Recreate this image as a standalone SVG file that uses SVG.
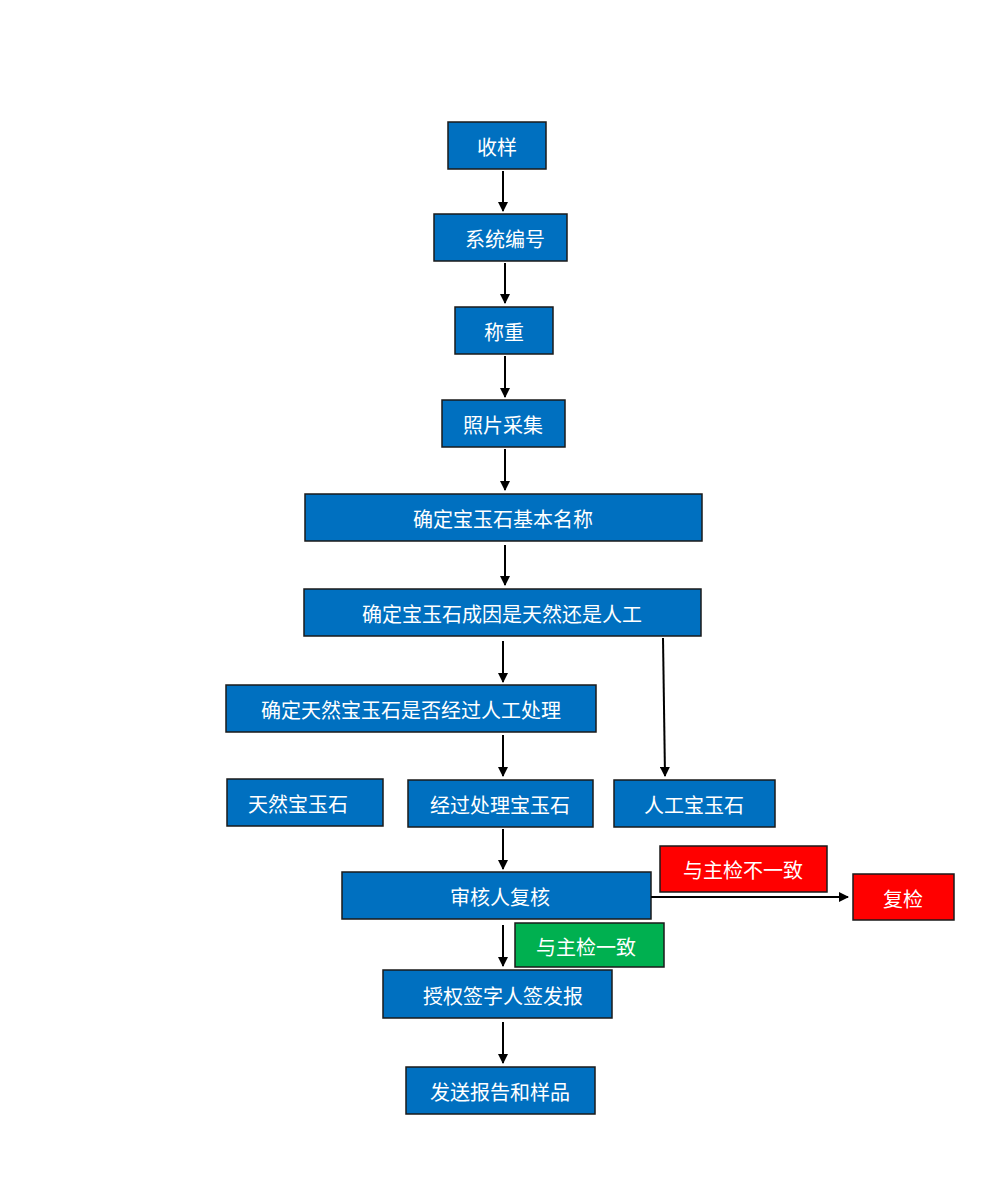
<svg xmlns="http://www.w3.org/2000/svg" width="1000" height="1192" viewBox="0 0 1000 1192">
<defs>
<style>
rect{stroke:#1a1a1a;stroke-width:1.5}
.b{fill:#0070C0}.r{fill:#FF0000}.g{fill:#00B050}
text{fill:#fff;font-family:"Noto Sans CJK SC","Liberation Sans",sans-serif;font-size:20px;text-anchor:middle;dominant-baseline:central}
line{stroke:#000;stroke-width:2;marker-end:url(#a)}
</style>
<marker id="a" markerWidth="10" markerHeight="10" refX="9" refY="5" orient="auto" markerUnits="userSpaceOnUse"><path d="M0,0L10,5L0,10z" fill="#000"/></marker>
</defs>
<rect width="1000" height="1192" fill="#fff" style="stroke:none"/>
<g id="n1"><rect class="b" x="448" y="122" width="98" height="47"/><text x="497" y="146">收样</text></g>
<g id="n2"><rect class="b" x="434" y="214" width="133" height="47"/><text x="505" y="238">系统编号</text></g>
<g id="n3"><rect class="b" x="455" y="307" width="98" height="47"/><text x="504" y="331">称重</text></g>
<g id="n4"><rect class="b" x="442" y="400" width="123" height="47"/><text x="503" y="424">照片采集</text></g>
<g id="n5"><rect class="b" x="305" y="494" width="397" height="47"/><text x="503" y="518">确定宝玉石基本名称</text></g>
<g id="n6"><rect class="b" x="304" y="589" width="397" height="47"/><text x="502" y="613">确定宝玉石成因是天然还是人工</text></g>
<g id="n7"><rect class="b" x="226" y="685" width="370" height="47"/><text x="411" y="709">确定天然宝玉石是否经过人工处理</text></g>
<g id="n8"><rect class="b" x="227" y="779" width="156" height="47"/><text x="298" y="803">天然宝玉石</text></g>
<g id="n9"><rect class="b" x="408" y="780" width="185" height="47"/><text x="500" y="804">经过处理宝玉石</text></g>
<g id="n10"><rect class="b" x="614" y="780" width="161" height="47"/><text x="694" y="804">人工宝玉石</text></g>
<g id="n11"><rect class="r" x="660" y="846" width="167" height="46"/><text x="743" y="869">与主检不一致</text></g>
<g id="n12"><rect class="b" x="342" y="872" width="309" height="47"/><text x="500" y="896">审核人复核</text></g>
<g id="n13"><rect class="r" x="853" y="874" width="101" height="46"/><text x="903" y="898">复检</text></g>
<g id="n14"><rect class="g" x="515" y="923" width="149" height="44"/><text x="586" y="946">与主检一致</text></g>
<g id="n15"><rect class="b" x="383" y="970" width="229" height="48"/><text x="503" y="995">授权签字人签发报</text></g>
<g id="n16"><rect class="b" x="406" y="1067" width="189" height="47"/><text x="500" y="1091">发送报告和样品</text></g>
<g id="connectors">
<line x1="503" y1="171" x2="503" y2="211"/>
<line x1="505" y1="263" x2="505" y2="303"/>
<line x1="505" y1="356" x2="505" y2="397"/>
<line x1="505" y1="449" x2="505" y2="490"/>
<line x1="505" y1="545" x2="505" y2="585"/>
<line x1="503" y1="641" x2="503" y2="682"/>
<line x1="663" y1="638" x2="665" y2="776"/>
<line x1="503" y1="735" x2="503" y2="776"/>
<line x1="503" y1="829" x2="503" y2="869"/>
<line x1="651" y1="897" x2="848" y2="897"/>
<line x1="503" y1="925" x2="503" y2="966"/>
<line x1="503" y1="1022" x2="503" y2="1063"/>
</g>
</svg>
